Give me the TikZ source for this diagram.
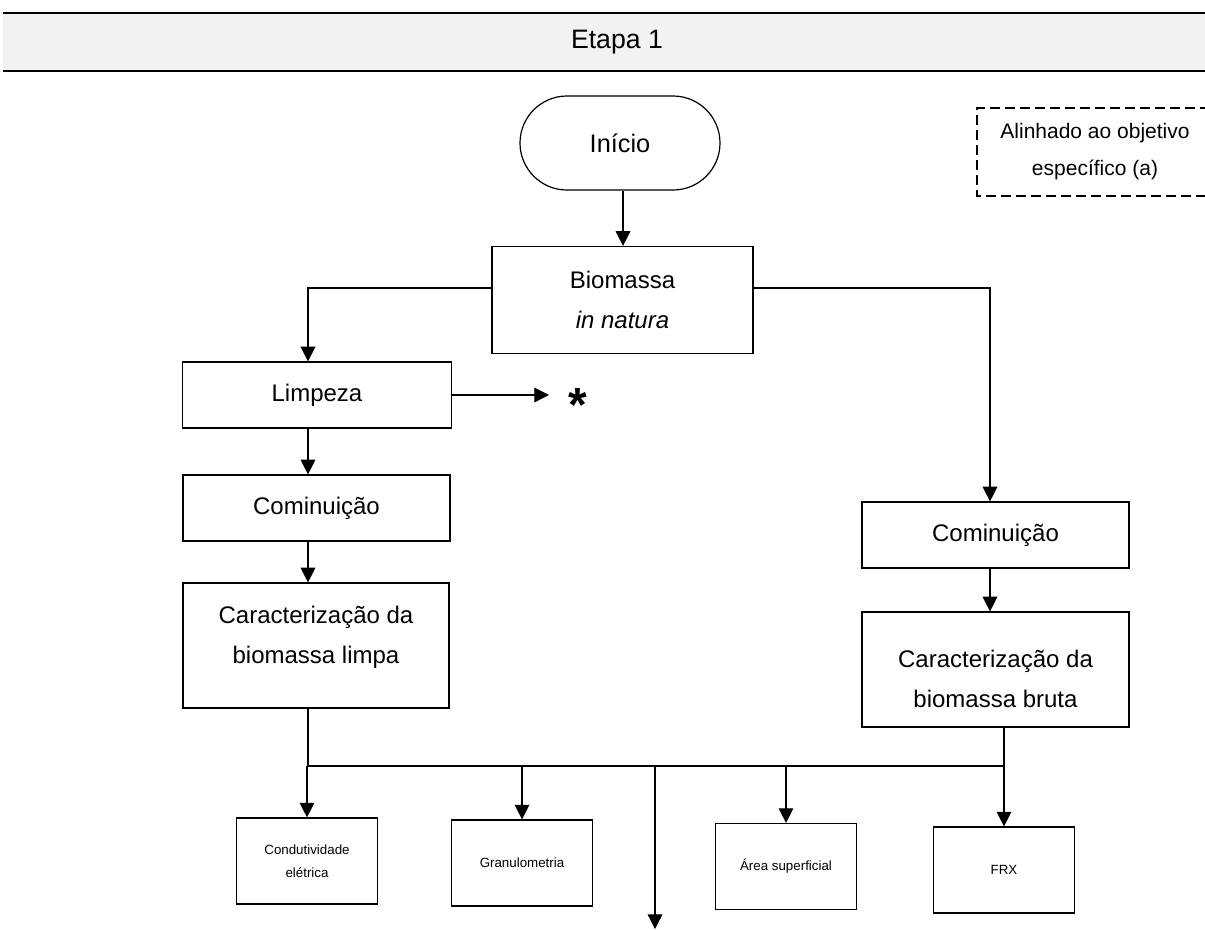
\documentclass[tikz,border=0pt]{standalone}
\usepackage{fontspec}
\setmainfont{Liberation Sans}
\usetikzlibrary{arrows.meta,shapes.misc}
\definecolor{hdr}{HTML}{F2F2F2}
\begin{document}
\begin{tikzpicture}[x=0.75pt,y=-0.75pt,
  box/.style={draw,line width=0.9pt,inner sep=0pt,align=center,font=\fontsize{18}{30}\selectfont},
  boxtext/.style={inner sep=0pt,align=center,font=\fontsize{18}{30}\selectfont},
  small/.style={draw,line width=0.9pt,inner sep=0pt,minimum width=105.75pt,minimum height=64.5pt,align=center,font=\fontsize{10}{17}\selectfont},
  arr/.style={line width=0.9pt,-{Triangle[width=11pt,length=11pt]}},
  ln/.style={line width=0.9pt}]
\useasboundingbox (0,0) rectangle (1205,929);
\fill[white] (0,0) rectangle (1205,929);
% header
\fill[hdr] (3,13) rectangle (1205,71);
\draw[line width=2.2pt] (3,13) -- (1205,13);
\draw[line width=2.2pt] (3,71) -- (1205,71);
\node[font=\fontsize{20}{24}\selectfont] (title) at (617,42) {Etapa 1};
% note
\draw[line width=0.8pt,dash pattern=on 7.5pt off 3.75pt] (1210,108) -- (977,108) -- (977,196) -- (1210,196);
\node[align=center,font=\fontsize{15.75}{27.75}\selectfont] (nota) at (1095,152) {Alinhado ao objetivo\\específico (a)};
% nodes
\node[draw,line width=0.9pt,rounded rectangle,minimum width=150pt,minimum height=70.5pt,inner sep=0pt,font=\fontsize{19}{24}\selectfont] (inicio) at (620,143) {Início};
\node[box,minimum width=195.75pt,minimum height=80.25pt] (bio) at (622.5,300) {Biomassa\\\textit{in natura}};
\node[box,minimum width=201.75pt,minimum height=49.5pt] (limpeza) at (317,395) {Limpeza};
\node[box,minimum width=200.25pt,minimum height=49.5pt] (comL) at (316.5,508) {Cominuição};
\node[box,minimum width=199.5pt,minimum height=93.75pt] (carL) at (316,645.5) {};
\node[boxtext] (carLt) at (316,637) {Caracterização da\\biomassa limpa};
\node[box,minimum width=200.25pt,minimum height=49.5pt] (comR) at (995.5,535) {Cominuição};
\node[box,minimum width=200.25pt,minimum height=86.25pt] (carR) at (995.5,669.5) {};
\node[boxtext] (carRt) at (995.5,679) {Caracterização da\\biomassa bruta};
\node[small] (cond) at (307,861) {Condutividade\\elétrica};
\node[small] (gran) at (522,863) {Granulometria};
\node[small] (area) at (786,866.5) {Área superficial};
\node[small] (frx) at (1004,870) {FRX};
\node[font=\bfseries\fontsize{36}{36}\selectfont,anchor=base,inner sep=0pt] (star) at (578,421) {*};
% coordinates
\coordinate (lx) at (308,288);
\coordinate (rx) at (990,288);
\coordinate (starin) at (549,395);
\coordinate (busL) at (308,766);
\coordinate (busR) at (1004,766);
\coordinate (busM) at (655,766);
\coordinate (endD) at (655,929);
% connectors
\draw[arr] (inicio.south -| 623,0) -- (bio.north -| 623,0);
\draw[arr] (bio.west |- lx) -- (lx) -- (lx |- limpeza.north);
\draw[arr] (bio.east |- rx) -- (rx) -- (rx |- comR.north);
\draw[arr] (limpeza.east |- starin) -- (starin);
\draw[arr] (lx |- limpeza.south) -- (lx |- comL.north);
\draw[arr] (lx |- comL.south) -- (lx |- carL.north);
\draw[arr] (rx |- comR.south) -- (rx |- carR.north);
\draw[ln] (busL |- carL.south) -- (busL) -- (busR);
\draw[arr] (busR |- carR.south) -- (frx.north);
\draw[arr] (cond.north |- busL) -- (cond.north);
\draw[arr] (gran.north |- busL) -- (gran.north);
\draw[arr] (area.north |- busL) -- (area.north);
\draw[arr] (busM) -- (endD);
\end{tikzpicture}
\end{document}
